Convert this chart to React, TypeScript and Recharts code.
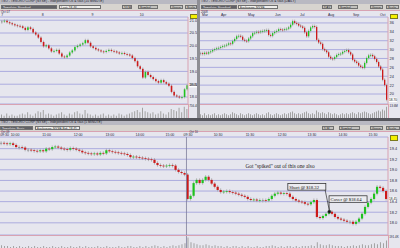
import React from 'react'
import {
  ComposedChart,
  BarChart,
  Bar,
  XAxis,
  YAxis,
  CartesianGrid,
  ReferenceLine,
  ReferenceDot,
} from 'recharts'

const FONT = '"Liberation Sans", Arial, sans-serif'
const SERIF = '"Liberation Serif", "Times New Roman", serif'
const BG = '#e6e6ee'
const GRID = '#9d9dda'
const PINK = '#d8a2b2'
const UP = '#1fc21f'
const DOWN = '#cc1a1a'
const WICK = '#9c9c9c'
const VOL = '#a2a2a2'
const INK = '#1e1e3c'

// 10 minute bars, Oct 7 - Oct 10
const tlDays = ['7', '8', '9', '10']
const tlDayAt = [0, 15.5, 34.5, 53]
const tlPriceTicks = [18, 18.5, 19, 19.5, 20, 20.5, 21]
const tlClose = [
  20.95, 20.98, 20.92, 20.88, 20.84, 20.8, 20.78, 20.76, 20.7, 20.62,
  20.72, 20.66, 20.52, 20.44, 20.32, 20.15, 19.98, 20.02, 19.9, 19.78,
  19.8, 19.84, 19.7, 19.58, 19.55, 19.62, 19.74, 19.82, 19.95, 20.0,
  20.05, 20.1, 20.22, 20.12, 19.98, 19.92, 19.86, 19.82, 19.78, 19.76,
  19.8, 19.84, 19.8, 19.78, 19.74, 19.7, 19.72, 19.68, 19.66, 19.62,
  19.52, 19.4, 19.2, 19.1, 18.76, 18.98, 18.86, 18.78, 18.7, 18.62,
  18.56, 18.66, 18.58, 18.52, 18.44, 18.2, 18.06, 18.02, 17.98, 18.0,
  18.3, 18.46,
]
const tlVol = [
  3, 2, 4, 2, 3, 2, 2, 3, 4, 3, 5, 3, 2, 4, 6, 5, 7, 3, 4, 3,
  2, 3, 4, 5, 3, 2, 4, 3, 5, 6, 4, 3, 7, 4, 3, 2, 3, 2, 3, 4,
  2, 3, 2, 3, 2, 4, 3, 2, 3, 4, 5, 6, 7, 5, 9, 6, 5, 4, 5, 3,
  4, 6, 4, 3, 5, 8, 7, 6, 9, 5, 10, 8,
]

// daily bars, Mar - Oct 2008
const trMonths = ['Mar', 'Apr', 'May', 'Jun', 'Jul', 'Aug', 'Sep', 'Oct']
const trMonthAt = [0.5, 10, 23.5, 37, 49.5, 63.5, 76, 89.5]
const trPriceTicks = [20, 22, 24, 26, 28, 30, 32, 34, 36]
const trClose = [
  29.2, 29.0, 29.3, 29.1, 29.4, 29.6, 29.9, 30.1, 30.3, 30.4,
  30.6, 30.8, 30.9, 31.1, 31.4, 31.3, 31.9, 32.4, 33.0, 33.1,
  32.9, 32.2, 32.0, 31.9, 32.5, 33.0, 33.7, 33.8, 34.0, 33.9,
  34.1, 34.2, 34.3, 34.4, 33.3, 33.1, 33.7, 34.0, 34.2, 34.6,
  34.5, 34.4, 34.6, 34.7, 35.0, 35.6, 36.4, 36.0, 35.8, 35.4,
  35.2, 34.9, 33.9, 33.0, 34.2, 35.0, 35.3, 35.1, 32.2, 31.6,
  31.3, 30.1, 29.8, 29.4, 28.4, 28.0, 27.9, 28.3, 28.8, 29.0,
  29.1, 29.5, 29.7, 29.9, 29.4, 28.9, 27.7, 27.3, 27.0, 26.4,
  26.1, 25.9, 27.0, 28.1, 28.7, 28.8, 28.5, 27.9, 27.2, 26.2,
  25.5, 23.2, 22.0, 18.7,
]
const trVol = [
  4, 3, 5, 3, 4, 3, 4, 5, 3, 4, 3, 4, 5, 4, 3, 4, 6, 5, 4, 3,
  5, 4, 3, 4, 5, 4, 3, 4, 5, 4, 3, 4, 3, 5, 6, 4, 3, 4, 5, 4,
  3, 4, 5, 4, 5, 6, 7, 5, 4, 5, 4, 5, 6, 7, 5, 4, 5, 4, 8, 6,
  5, 6, 5, 4, 6, 5, 4, 5, 4, 3, 4, 5, 4, 5, 4, 5, 6, 5, 4, 6,
  5, 6, 7, 6, 5, 4, 5, 6, 7, 8, 7, 9, 8, 12,
]

// 5 minute bars, Oct 9 - Oct 10
const btTimes = [
  '09:30', '10:00', '11:00', '12:00', '13:00', '14:00', '15:00',
  '09:30', '10:30', '11:30', '12:30', '13:30', '14:30', '15:30',
]
const btTimeAt = [1, 4.5, 15, 25.5, 36, 46, 56, 62, 72, 82.6, 93.3, 103.2, 113.5, 123.5]
const btPriceTicks = [18, 18.2, 18.4, 18.6, 18.8, 19, 19.2, 19.4]
const btClose = [
  19.51, 19.5, 19.49, 19.5, 19.47, 19.43, 19.43, 19.42, 19.38, 19.38,
  19.37, 19.36, 19.35, 19.37, 19.35, 19.4, 19.39, 19.43, 19.44, 19.42,
  19.4, 19.39, 19.38, 19.41, 19.4, 19.38, 19.36, 19.33, 19.32, 19.31,
  19.3, 19.31, 19.29, 19.32, 19.31, 19.37, 19.35, 19.34, 19.33, 19.32,
  19.31, 19.3, 19.28, 19.24, 19.25, 19.24, 19.23, 19.22, 19.21, 19.2,
  19.19, 19.13, 19.09, 19.08, 19.07, 19.08, 19.09, 19.08, 19.0, 18.96,
  18.94, 18.91,
  18.45, 18.51, 18.75, 18.81, 18.75, 18.81, 18.87, 18.81, 18.74, 18.68,
  18.62, 18.58, 18.59, 18.6, 18.58, 18.57, 18.55, 18.53, 18.51, 18.49,
  18.45, 18.43, 18.44, 18.42, 18.43, 18.43, 18.42, 18.45, 18.51, 18.55,
  18.57, 18.55, 18.56, 18.55, 18.49, 18.45, 18.42, 18.4, 18.39, 18.36,
  18.35, 18.39, 18.43, 18.11, 18.09, 18.13, 18.17, 18.21, 18.17, 18.11,
  18.08, 18.06, 18.04, 18.02, 18.02, 17.98, 18.02, 18.08, 18.17, 18.3,
  18.38, 18.45, 18.55, 18.68, 18.66, 18.6, 18.45,
]
const btVol = [
  3, 2, 2, 1, 2, 1, 2, 1, 1, 2, 1, 2, 1, 1, 2, 1, 1, 2, 1, 1,
  2, 1, 1, 2, 1, 1, 2, 1, 2, 1, 1, 1, 2, 1, 1, 2, 1, 1, 1, 2,
  1, 1, 2, 2, 1, 1, 2, 1, 2, 1, 2, 3, 2, 1, 2, 1, 2, 3, 2, 3,
  4, 5,
  11, 6, 5, 4, 3, 3, 4, 3, 2, 3, 2, 2, 1, 2, 1, 2, 2, 1, 2, 1,
  2, 1, 1, 2, 1, 1, 2, 2, 3, 2, 1, 2, 1, 2, 2, 1, 2, 1, 2, 2,
  2, 3, 2, 6, 4, 3, 3, 4, 3, 2, 2, 2, 1, 2, 2, 3, 2, 3, 4, 3,
  3, 4, 5, 4, 6, 5, 8,
]
const dayBreak = 61.5
const shortAt = 109
const shortPrice = 18.32
const coverPrice = 18.64

function build(closes: number[], vols: number[]) {
  return closes.map((c, i) => {
    const o = i === 0 ? c : closes[i - 1]
    return { i, o, c, body: [Math.min(o, c), Math.max(o, c)], v: vols[i] }
  })
}

const candle = (bodyW: number, wick: number) => (p: any) => {
  const { x, y, width, height, payload } = p
  if (x == null || y == null) return <g />
  const top = height < 0 ? y + height : y
  const h = Math.max(Math.abs(height || 0), 0.8)
  const cx = x + width / 2
  const fill = payload.c > payload.o ? UP : payload.c < payload.o ? DOWN : '#8a8a8a'
  return (
    <g>
      <line x1={cx} x2={cx} y1={top - wick} y2={top + h + wick} stroke={WICK} strokeWidth={0.7} />
      <rect x={cx - bodyW / 2} y={top} width={bodyW} height={h} fill={fill} />
    </g>
  )
}

// last-price box drawn on the right axis
const PriceTag = (props: any) => {
  const vb = props.viewBox
  if (!vb) return null
  const x = vb.x + vb.width + 0.5
  return (
    <g>
      <rect x={x} y={vb.y - 2.2} width={8.4} height={4.4} fill="#fff" />
      <text x={x + 0.5} y={vb.y + 1.2} fontSize={3.2} fontFamily={FONT} fill="#111">
        {props.text}
      </text>
    </g>
  )
}

function PriceChart(props: any) {
  const { data, width, height, axisW, domain, yTicks, yFmt, xTicks, xLabels, xAnchor, bodyW, wick, last, children } = props
  const n = data.length
  return (
    <ComposedChart width={width} height={height} data={data} margin={{ top: 0, right: 0, bottom: 0, left: 0 }}>
      <CartesianGrid vertical={false} stroke={GRID} strokeWidth={0.8} />
      <XAxis
        dataKey="i"
        type="number"
        orientation="top"
        domain={[-0.5, n - 0.5]}
        ticks={xTicks}
        interval={0}
        height={7}
        tickSize={0}
        tickMargin={0}
        axisLine={false}
        tickLine={false}
        allowDataOverflow
        tick={(p: any) => (
          <text x={p.x} y={p.y - 0.6} fontSize={3.5} fontFamily={FONT} fill={INK} textAnchor={xAnchor}>
            {xLabels[p.index]}
          </text>
        )}
      />
      <YAxis
        orientation="right"
        type="number"
        domain={domain}
        ticks={yTicks}
        interval={0}
        width={axisW}
        tickSize={0}
        tickMargin={0}
        axisLine={{ stroke: PINK, strokeWidth: 1 }}
        tickLine={false}
        allowDataOverflow
        tick={(p: any) => (
          <text x={p.x + 1.5} y={p.y + 1.4} fontSize={3.9} fontFamily={FONT} fill={INK}>
            {yFmt(p.payload.value)}
          </text>
        )}
      />
      {children}
      <Bar dataKey="body" barSize={bodyW} shape={candle(bodyW, wick)} isAnimationActive={false} />
      <ReferenceLine y={last} strokeOpacity={0} label={<PriceTag text={last.toFixed(2)} />} />
    </ComposedChart>
  )
}

function VolChart({ data, width, height, bar, divider }: any) {
  const max = Math.max(...data.map((d: any) => d.v))
  return (
    <BarChart width={width} height={height} data={data} margin={{ top: 0, right: 0, bottom: 0, left: 0 }}>
      <XAxis dataKey="i" type="number" domain={[-0.5, data.length - 0.5]} hide />
      <YAxis domain={[0, max * 1.15]} hide />
      {divider !== undefined && <ReferenceLine x={divider} stroke="#7c7c9c" strokeWidth={0.8} />}
      <Bar dataKey="v" fill={VOL} barSize={bar} isAnimationActive={false} />
    </BarChart>
  )
}

const Txt = ({ x, y, size = 3.6, color = INK, children, style }: any) => (
  <div
    style={{
      position: 'absolute',
      left: x,
      top: y,
      fontSize: size,
      lineHeight: 1,
      color,
      whiteSpace: 'nowrap',
      fontFamily: FONT,
      ...style,
    }}
  >
    {children}
  </div>
)

function Header({ left, top, width, title, buttons }: any) {
  return (
    <div style={{ position: 'absolute', left, top, width, height: 10.5 }}>
      <div style={{ position: 'absolute', left: 0, top: 0, width, height: 4, background: '#b9b9c2' }}>
        <Txt x={1} y={0.4} size={3.3} color="#202028">
          {title}
        </Txt>
      </div>
      <div style={{ position: 'absolute', left: 0, top: 4, width, height: 6, background: '#d7d4cf' }}>
        {buttons.map((b: any, k: number) => (
          <div
            key={k}
            style={{
              position: 'absolute',
              left: b.x,
              top: 0.6,
              width: b.w,
              height: 4.6,
              boxSizing: 'border-box',
              border: '0.5px solid #707070',
              background: b.dark ? '#626268' : b.light ? '#f0efec' : '#c3c1bd',
              color: b.dark ? '#ececec' : '#222',
              fontSize: 3.2,
              lineHeight: '4.2px',
              paddingLeft: 1,
              overflow: 'hidden',
              whiteSpace: 'nowrap',
              fontFamily: FONT,
            }}
          >
            {b.t}
          </div>
        ))}
      </div>
      <div style={{ position: 'absolute', left: 0, top: 10, width, height: 0.8, background: PINK }} />
    </div>
  )
}

const Yellow = ({ x, y }: any) => (
  <div
    style={{
      position: 'absolute',
      left: x,
      top: y,
      width: 6,
      height: 3.5,
      background: '#f4f000',
      border: '0.5px solid #7a7a20',
    }}
  />
)

export default function App() {
  const tl = build(tlClose, tlVol)
  const tr = build(trClose, trVol)
  const bt = build(btClose, btVol)
  const title = 'TSO - TESORO CORP (NYSE) - Independent Oil & Gas'

  return (
    <div
      style={{
        position: 'fixed',
        left: 0,
        top: 0,
        width: 400,
        height: 248,
        overflow: 'hidden',
        background: BG,
        fontFamily: FONT,
      }}
    >
      {/* top left: 10 minute */}
      <Header
        left={0}
        top={0}
        width={197}
        title={title + ' (10 MINUTE)'}
        buttons={[
          { x: 1, w: 56, t: 'Template: Standard', dark: true },
          { x: 59, w: 42, t: 'Last: 18.46', light: true },
          { x: 122, w: 10, t: '10 M' },
          { x: 138, w: 20, t: 'Symbol' },
          { x: 170, w: 13, t: 'Group' },
          { x: 185, w: 12, t: 'Scale' },
        ]}
      />
      <Txt x={1} y={10.8} size={3}>
        Oct 07
      </Txt>
      <div style={{ position: 'absolute', left: 0, top: 10 }}>
        <PriceChart
          data={tl}
          width={197}
          height={94}
          axisW={9}
          domain={[17.727, 21.125]}
          yTicks={tlPriceTicks}
          yFmt={(v: number) => v.toFixed(1)}
          xTicks={tlDayAt}
          xLabels={tlDays}
          xAnchor="start"
          bodyW={1.6}
          wick={1.4}
          last={tlClose[tlClose.length - 1]}
        />
      </div>
      <Yellow x={190} y={13.5} />
      <div
        style={{
          position: 'absolute',
          left: 0,
          top: 104,
          width: 188,
          height: 14,
          borderTop: `1px solid ${PINK}`,
          borderRight: `1px solid ${PINK}`,
        }}
      >
        <VolChart data={tl} width={188} height={13} bar={1} />
      </div>
      <Txt x={189.2} y={105} size={3}>
        756.4K
      </Txt>

      {/* divider between top panels */}
      <div style={{ position: 'absolute', left: 197, top: 0, width: 3, height: 118, background: '#8e8e94' }} />

      {/* top right: daily */}
      <Header
        left={200}
        top={0}
        width={200}
        title={title + ' (DAILY)'}
        buttons={[
          { x: 1, w: 36, t: 'Template: Standard', dark: true },
          { x: 38, w: 40, t: 'Exchange: NYSE', light: true },
          { x: 122, w: 10, t: 'DAY' },
          { x: 138, w: 20, t: 'Symbol' },
          { x: 170, w: 13, t: 'Group' },
          { x: 186, w: 13, t: 'Scale' },
        ]}
      />
      <Txt x={201} y={10.8} size={3}>
        2008
      </Txt>
      <div style={{ position: 'absolute', left: 200, top: 10 }}>
        <PriceChart
          data={tr}
          width={200}
          height={94}
          axisW={12}
          domain={[17.75, 37.34]}
          yTicks={trPriceTicks}
          yFmt={(v: number) => String(v)}
          xTicks={trMonthAt}
          xLabels={trMonths}
          xAnchor="start"
          bodyW={1.3}
          wick={1.5}
          last={trClose[trClose.length - 1]}
        />
      </div>
      <Yellow x={390} y={13.5} />
      <div
        style={{
          position: 'absolute',
          left: 200,
          top: 104,
          width: 188,
          height: 14,
          borderTop: `1px solid ${PINK}`,
          borderRight: `1px solid ${PINK}`,
        }}
      >
        <VolChart data={tr} width={188} height={13} bar={1} />
      </div>
      <Txt x={389.5} y={105} size={3}>
        13.6M
      </Txt>

      {/* strip between top and bottom */}
      <div style={{ position: 'absolute', left: 0, top: 118, width: 400, height: 3, background: '#55555c' }} />

      {/* bottom: 5 minute */}
      <Header
        left={0}
        top={121}
        width={400}
        title={title + ' (5 MINUTE)'}
        buttons={[
          { x: 0, w: 33, t: 'Template: Basic', dark: true },
          { x: 35, w: 45, t: 'Exchange: NYSE   Bid: 18.45', light: true },
          { x: 322, w: 12, t: '5 M' },
          { x: 339, w: 21, t: 'Symbol' },
          { x: 370, w: 13, t: 'Group' },
          { x: 386, w: 14, t: 'Scale' },
        ]}
      />
      <Txt x={1} y={131} size={2.8}>
        Oct 09
      </Txt>
      <Txt x={189.5} y={131} size={2.8}>
        Oct 10
      </Txt>
      <div style={{ position: 'absolute', left: 0, top: 130 }}>
        <PriceChart
          data={bt}
          width={400}
          height={105}
          axisW={12}
          domain={[17.77, 19.62]}
          yTicks={btPriceTicks}
          yFmt={(v: number) => v.toFixed(1)}
          xTicks={btTimeAt}
          xLabels={btTimes}
          xAnchor="middle"
          bodyW={2.2}
          wick={1.6}
          last={btClose[btClose.length - 1]}
        >
          <ReferenceLine x={dayBreak} stroke="#7c7c9c" strokeWidth={0.8} />
          <ReferenceDot
            x={92.6}
            y={19.04}
            shape={(p: any) => (
              <text x={p.cx} y={p.cy} fontSize={5.3} fontFamily={SERIF} fill="#222" textAnchor="middle">
                Got "spiked" out of this one also
              </text>
            )}
          />
          <ReferenceLine
            segment={[
              { x: 107.6, y: 18.62 },
              { x: shortAt, y: 18.23 },
            ]}
            stroke="#111"
            strokeWidth={0.6}
          />
          <ReferenceLine
            segment={[
              { x: 108.9, y: 18.4 },
              { x: shortAt, y: 18.23 },
            ]}
            stroke="#111"
            strokeWidth={0.6}
          />
          <ReferenceDot
            x={95.2}
            y={18.74}
            shape={(p: any) => (
              <g>
                <rect x={p.cx} y={p.cy} width={38} height={6.5} fill="#ececf0" stroke="#222" strokeWidth={0.7} />
                <text x={p.cx + 1.5} y={p.cy + 4.9} fontSize={4.7} fontFamily={SERIF} fill="#111">
                  {'Short @ $' + shortPrice.toFixed(2)}
                </text>
              </g>
            )}
          />
          <ReferenceDot
            x={108.9}
            y={18.51}
            shape={(p: any) => (
              <g>
                <rect x={p.cx} y={p.cy} width={38} height={6.5} fill="#ececf0" stroke="#222" strokeWidth={0.7} />
                <text x={p.cx + 1.5} y={p.cy + 4.9} fontSize={4.7} fontFamily={SERIF} fill="#111">
                  {'Cover @ $' + coverPrice.toFixed(2)}
                </text>
              </g>
            )}
          />
          <ReferenceDot x={shortAt} y={18.21} r={1.6} fill="#111" stroke="#555" strokeWidth={0.5} />
        </PriceChart>
      </div>
      <Yellow x={390} y={135} />
      <div
        style={{
          position: 'absolute',
          left: 0,
          top: 235,
          width: 388,
          height: 13,
          borderTop: `1px solid ${PINK}`,
          borderRight: `1px solid ${PINK}`,
        }}
      >
        <VolChart data={bt} width={388} height={12} bar={1} divider={dayBreak} />
      </div>
      <Txt x={389.2} y={236} size={3}>
        191.4K
      </Txt>
    </div>
  )
}
